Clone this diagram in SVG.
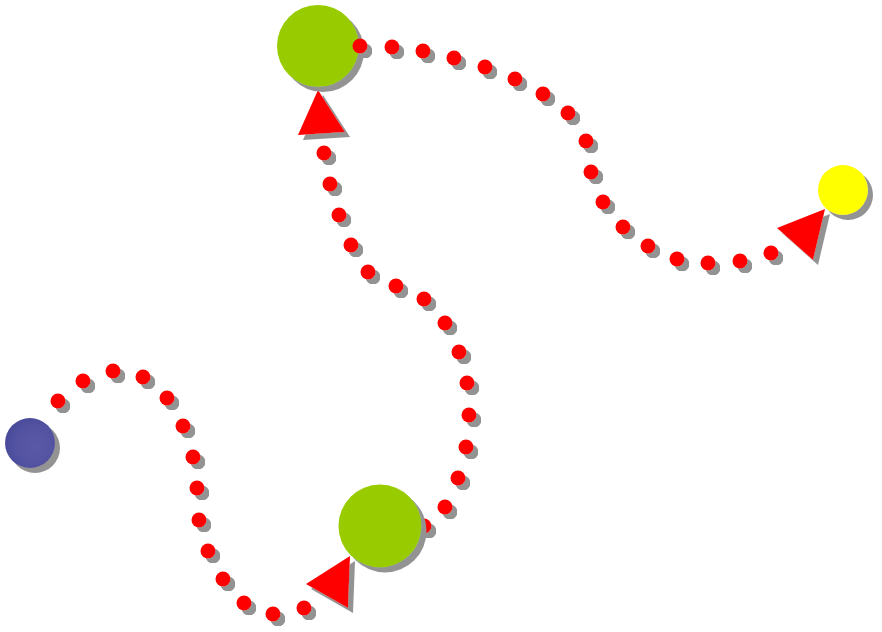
<svg xmlns="http://www.w3.org/2000/svg" width="882" height="632" viewBox="0 0 882 632">
<defs>
<filter id="sh" x="-30%" y="-30%" width="160%" height="160%">
<feFlood flood-color="#939393"/>
<feComposite in2="SourceAlpha" operator="in"/>
<feOffset dx="5" dy="5" result="s"/>
<feMerge><feMergeNode in="s"/><feMergeNode in="SourceGraphic"/></feMerge>
</filter>
<radialGradient id="blueG" cx="60%" cy="55%" r="60%" fx="62%" fy="58%">
<stop offset="0" stop-color="#5a5aa8"/>
<stop offset="0.8" stop-color="#5050a0"/>
<stop offset="1" stop-color="#4a4a98"/>
</radialGradient>
</defs>
<style>
.dot{fill:#ff0000;filter:url(#sh)}
.arrow{fill:#ff0000;filter:url(#sh)}
.node{filter:url(#sh)}
</style>
<rect width="882" height="632" fill="#ffffff"/>
<g id="connectors">
<g id="c1">
<circle class="dot" cx="58" cy="401" r="7.5"/>
<circle class="dot" cx="83" cy="381" r="7.5"/>
<circle class="dot" cx="113" cy="371" r="7.5"/>
<circle class="dot" cx="143" cy="377" r="7.5"/>
<circle class="dot" cx="167" cy="398" r="7.5"/>
<circle class="dot" cx="183" cy="426" r="7.5"/>
<circle class="dot" cx="193" cy="457" r="7.5"/>
<circle class="dot" cx="197" cy="488" r="7.5"/>
<circle class="dot" cx="199" cy="520" r="7.5"/>
<circle class="dot" cx="208" cy="551" r="7.5"/>
<circle class="dot" cx="223" cy="579" r="7.5"/>
<circle class="dot" cx="244" cy="603" r="7.5"/>
<circle class="dot" cx="273" cy="614" r="7.5"/>
<circle class="dot" cx="304" cy="608" r="7.5"/>
<polygon class="arrow" points="350,556 306,584 348,608"/>
</g>
<g id="c2">
<circle class="dot" cx="424" cy="526" r="7.5"/>
<circle class="dot" cx="445" cy="507" r="7.5"/>
<circle class="dot" cx="458" cy="478" r="7.5"/>
<circle class="dot" cx="466" cy="447" r="7.5"/>
<circle class="dot" cx="469" cy="415" r="7.5"/>
<circle class="dot" cx="467" cy="383" r="7.5"/>
<circle class="dot" cx="459" cy="352" r="7.5"/>
<circle class="dot" cx="445" cy="323" r="7.5"/>
<circle class="dot" cx="424" cy="299" r="7.5"/>
<circle class="dot" cx="396" cy="286" r="7.5"/>
<circle class="dot" cx="368" cy="272" r="7.5"/>
<circle class="dot" cx="351" cy="245" r="7.5"/>
<circle class="dot" cx="339" cy="215" r="7.5"/>
<circle class="dot" cx="330" cy="184" r="7.5"/>
<circle class="dot" cx="324" cy="153" r="7.5"/>
<polygon class="arrow" points="318,90 298,135 345,132"/>
</g>
</g>
<g id="n2"><circle class="node" cx="380" cy="526" r="41.5" fill="#99cc00"/></g>
<g id="n1"><circle class="node" cx="30" cy="443" r="25" fill="url(#blueG)"/></g>
<g id="n3"><circle class="node" cx="318" cy="46" r="41" fill="#99cc00"/></g>
<g id="connectors2">
<g id="c3">
<circle class="dot" cx="360" cy="46" r="7.5"/>
<circle class="dot" cx="392" cy="47" r="7.5"/>
<circle class="dot" cx="423" cy="51" r="7.5"/>
<circle class="dot" cx="454" cy="58" r="7.5"/>
<circle class="dot" cx="485" cy="67" r="7.5"/>
<circle class="dot" cx="515" cy="79" r="7.5"/>
<circle class="dot" cx="543" cy="94" r="7.5"/>
<circle class="dot" cx="568" cy="113" r="7.5"/>
<circle class="dot" cx="586" cy="141" r="7.5"/>
<circle class="dot" cx="591" cy="172" r="7.5"/>
<circle class="dot" cx="603" cy="202" r="7.5"/>
<circle class="dot" cx="623" cy="227" r="7.5"/>
<circle class="dot" cx="648" cy="246" r="7.5"/>
<circle class="dot" cx="677" cy="259" r="7.5"/>
<circle class="dot" cx="708" cy="263" r="7.5"/>
<circle class="dot" cx="740" cy="261" r="7.5"/>
<circle class="dot" cx="771" cy="253" r="7.5"/>
<polygon class="arrow" points="825,209 777,228 813,260"/>
</g>
</g>
<g id="n4"><circle class="node" cx="843" cy="190" r="25" fill="#ffff00"/></g>
</svg>
